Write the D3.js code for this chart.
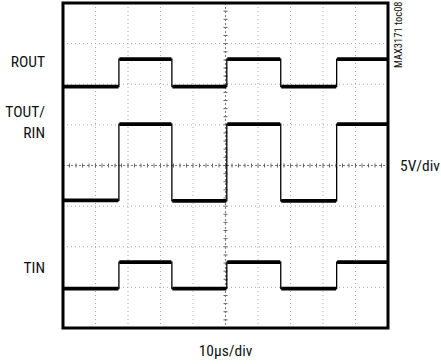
<!DOCTYPE html>
<html><head><meta charset="utf-8">
<script src="https://cdn.jsdelivr.net/npm/d3@7"></script>
<style>
html,body{margin:0;padding:0;background:#fff;}
text{font-family:"Liberation Sans Narrow","Roboto Condensed","Liberation Sans",Arial,sans-serif;}
</style></head>
<body><svg id="c" width="441" height="364"></svg>
<script>
// Time axis in divisions (10 div, 10µs/div); vertical in divisions (8 div, 5V/div), 0 = centre
const edgeTimes = [1.72, 3.35, 5.04, 6.70, 8.42];            // switching instants (div)
const traceNames = ["ROUT", "TOUT/RIN", "TIN"];
const routLevels = [1.94, 2.62, 1.94, 2.62, 1.94, 2.62];      // level for each segment
const toutLevels = [-0.86, 1.02, -0.87, 1.02, -0.87, 1.02];
const tinLevels  = [-3.03, -2.38, -3.03, -2.38, -3.03, -2.38];
const xTicks = d3.range(0, 11);
const yTicks = d3.range(-4, 5);

const svg = d3.select("#c");
const L = 63, R = 388, T = 3, B = 328;
const x = d3.scaleLinear().domain([0, 10]).range([L, R]);
const y = d3.scaleLinear().domain([-4, 4]).range([B, T]);

// grid
const g = svg.append("g");
xTicks.slice(1, -1).forEach(t => {
  g.append("line").attr("x1", x(t)).attr("x2", x(t)).attr("y1", T).attr("y2", B)
    .attr("stroke", t === 5 ? "#777" : "#aaa").attr("stroke-width", 1)
    .attr("stroke-dasharray", t === 5 ? "2,2" : "1,3");
});
yTicks.slice(1, -1).forEach(t => {
  g.append("line").attr("x1", L).attr("x2", R).attr("y1", y(t)).attr("y2", y(t))
    .attr("stroke", t === 0 ? "#777" : "#aaa").attr("stroke-width", 1)
    .attr("stroke-dasharray", t === 0 ? "2,2" : "1,3");
});
// minor ticks on centre axes
d3.range(0, 10.01, 0.2).forEach(t => {
  g.append("line").attr("x1", x(t)).attr("x2", x(t)).attr("y1", y(0) - 2).attr("y2", y(0) + 2)
    .attr("stroke", "#666").attr("stroke-width", 1);
});
d3.range(-4, 4.01, 0.2).forEach(t => {
  g.append("line").attr("x1", x(5) - 2).attr("x2", x(5) + 2).attr("y1", y(t)).attr("y2", y(t))
    .attr("stroke", "#666").attr("stroke-width", 1);
});

// traces
function stepPoints(levels) {
  const bounds = [0, ...edgeTimes, 10];
  const pts = [];
  levels.forEach((v, i) => { pts.push([bounds[i], v]); pts.push([bounds[i + 1], v]); });
  return pts;
}
const line = d3.line().x(d => x(d[0])).y(d => y(d[1]));
[routLevels, toutLevels, tinLevels].forEach(lv => {
  svg.append("path").attr("d", line(stepPoints(lv))).attr("fill", "none")
    .attr("stroke", "#000").attr("stroke-width", 1.3);
  const bounds = [0, ...edgeTimes, 10];
  lv.forEach((v, i) => {
    svg.append("line").attr("x1", x(bounds[i]) + 0.5).attr("x2", x(bounds[i + 1]) - 0.5)
      .attr("y1", y(v)).attr("y2", y(v)).attr("stroke", "#000").attr("stroke-width", 3.8);
  });
});

// frame
svg.append("rect").attr("x", L).attr("y", T).attr("width", R - L).attr("height", B - T)
  .attr("fill", "none").attr("stroke", "#000").attr("stroke-width", 3);

// labels
const lab = svg.append("g").attr("font-size", 15.5).attr("fill", "#111");
lab.append("text").attr("x", 45).attr("y", 67).attr("text-anchor", "end").text("ROUT");
lab.append("text").attr("x", 45).attr("y", 117).attr("text-anchor", "end").text("TOUT/");
lab.append("text").attr("x", 45).attr("y", 138).attr("text-anchor", "end").text("RIN");
lab.append("text").attr("x", 45).attr("y", 273).attr("text-anchor", "end").text("TIN");
lab.append("text").attr("x", 400).attr("y", 171).text("5V/div");
lab.append("text").attr("x", x(5)).attr("y", 356).attr("text-anchor", "middle").text("10\u00b5s/div");
svg.append("text").attr("transform", "translate(402,68) rotate(-90)").attr("font-size", 10.5)
  .attr("fill", "#111").text("MAX3171 toc08");
</script></body></html>
